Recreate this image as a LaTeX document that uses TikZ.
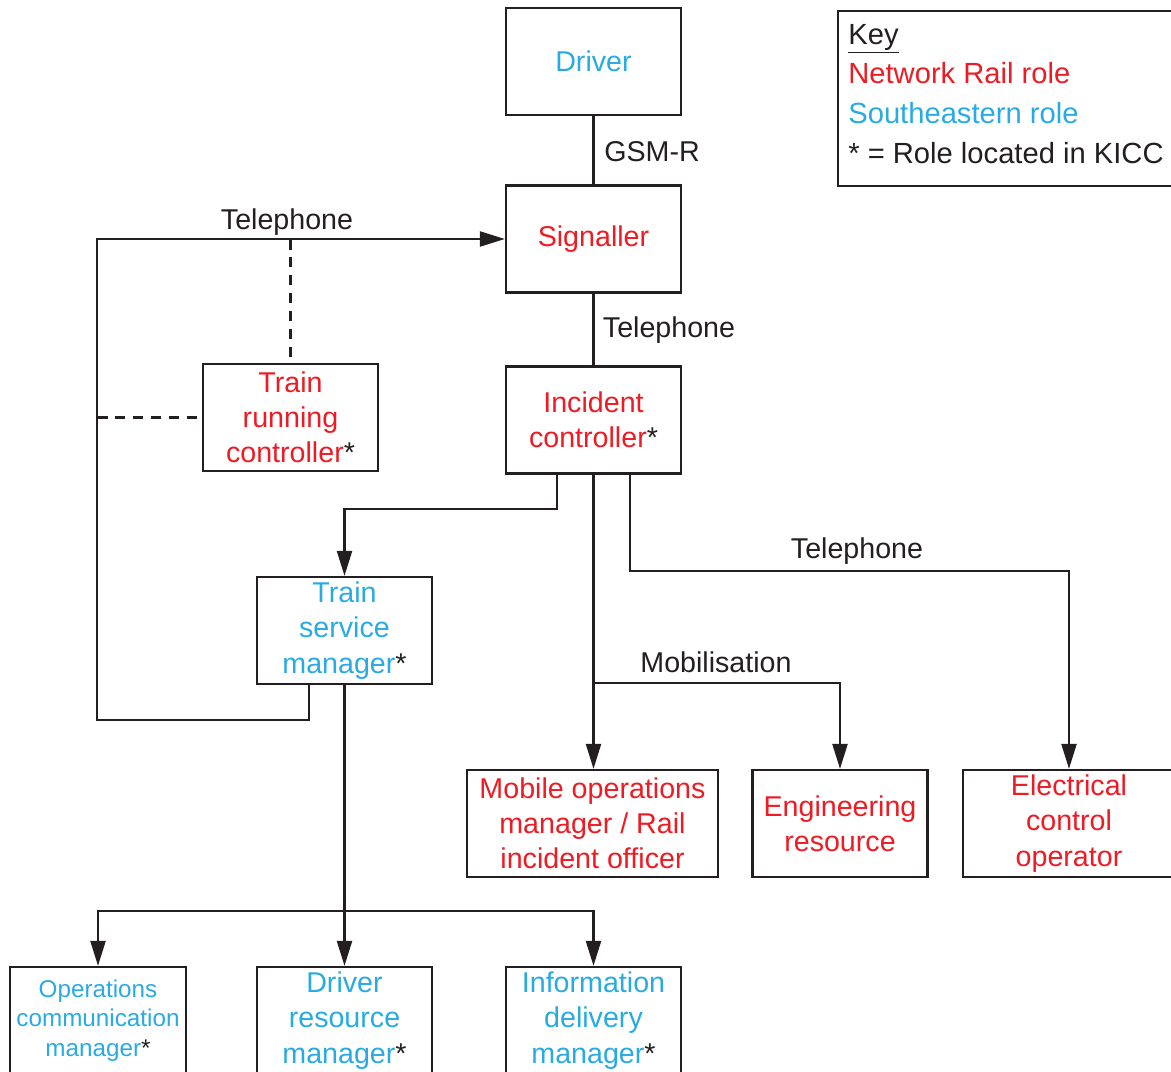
\documentclass[tikz,border=0pt]{standalone}
\usepackage{fontspec}
\setmainfont{Liberation Sans}
\usetikzlibrary{arrows.meta}
\definecolor{nrred}{HTML}{ED1C24}
\definecolor{seblue}{HTML}{29ABE2}
\definecolor{ink}{HTML}{231F20}
\newcommand{\kicc}{\textcolor{ink}{*}}
\tikzset{
  role/.style={draw=ink, line width=1.3pt, inner sep=0pt, minimum width=3.5cm,
    minimum height=2.14cm, align=center, font=\fontsize{16.3}{20}\selectfont},
  nr/.style={role, text=nrred},
  se/.style={role, text=seblue},
  link/.style={draw=ink, line width=1.3pt},
  arr/.style={link, -{Triangle[length=5mm,width=3mm]}},
  dash link/.style={link, dash pattern=on 6pt off 4.2pt},
  lbl/.style={text=ink, inner sep=0pt, font=\fontsize{16.3}{20}\selectfont},
}
\begin{document}
\begin{tikzpicture}[x=0.02cm, y=-0.02cm]
      \useasboundingbox (0,0) rectangle (1171,1072);
      % roles
      \node[se] (driver) at (593.5,61.5) {Driver};
      \node[nr] (signaller) at (593.5,239) {Signaller};
      \node[nr] (ic) at (593.5,420) {Incident\\controller\kicc};
      \node[nr] (trc) at (290.5,417.5) {Train\\running\\controller\kicc};
      \node[se] (tsm) at (344.5,630.5) {Train\\service\\manager\kicc};
      \node[nr, minimum width=5.02cm] (mob) at (592.5,823.5) {Mobile operations\\manager / Rail\\incident officer};
      \node[nr] (eng) at (840,823.5) {Engineering\\resource};
      \node[nr, minimum width=4.24cm] (eco) at (1069,823.5) {Electrical\\control\\operator};
      \node[se, minimum width=3.52cm, font=\fontsize{13.8}{16.7}\selectfont] (ocm) at (98,1020.5) {Operations\\communication\\manager\kicc};
      \node[se] (drm) at (344.5,1020.5) {Driver\\resource\\manager\kicc};
      \node[se] (idm) at (593.5,1020.5) {Information\\delivery\\manager\kicc};
      % key
      \node[draw=ink, line width=1.3pt, minimum width=7cm, minimum height=3.5cm, inner sep=0pt] (keybox) at (1013,98.5) {};
      \node[lbl, anchor=west, align=left, font=\fontsize{16.6}{22.7}\selectfont] (key) at (848,94)
        {\underline{Key}\\\textcolor{nrred}{Network Rail role}\\\textcolor{seblue}{Southeastern role}\\* = Role located in KICC};
      % labels
      \node[lbl] (gsmr) at (652,152) {GSM-R};
      \node[lbl] (tel1) at (669,330) {Telephone};
      \node[lbl] (tel2) at (287,222) {Telephone};
      \node[lbl] (tel3) at (857,551) {Telephone};
      \node[lbl] (mobil) at (716,662) {Mobilisation};
      % bends
      \coordinate (telA) at (309,720);
      \coordinate (loopL) at (97,720);
      \coordinate (icA) at (557,509);
      \coordinate (icB) at (630,571);
      \coordinate (mobsplit) at (593.5,683);
      \coordinate (split) at (344.5,911);
      % links
      \draw[link] (driver) to (signaller);
      \draw[link] (signaller) to (ic);
      \draw[arr] (tsm.south -| telA) -- (telA) -- (loopL) |- (signaller.west);
      \draw[dash link] (trc.north |- signaller.west) -- (trc.north);
      \draw[dash link] (trc.west -| loopL) -- (trc.west);
      \draw[arr] (ic.south -| icA) -- (icA) -| (tsm.north);
      \draw[arr] (ic.south) -- (ic.south |- mob.north);
      \draw[arr] (mobsplit) -| (eng.north);
      \draw[arr] (ic.south -| icB) -- (icB) -| (eco.north);
      \draw[arr] (tsm.south) -- (drm.north);
      \draw[arr] (split) -| (ocm.north);
      \draw[arr] (split) -| (idm.north);
    \end{tikzpicture}
\end{document}
